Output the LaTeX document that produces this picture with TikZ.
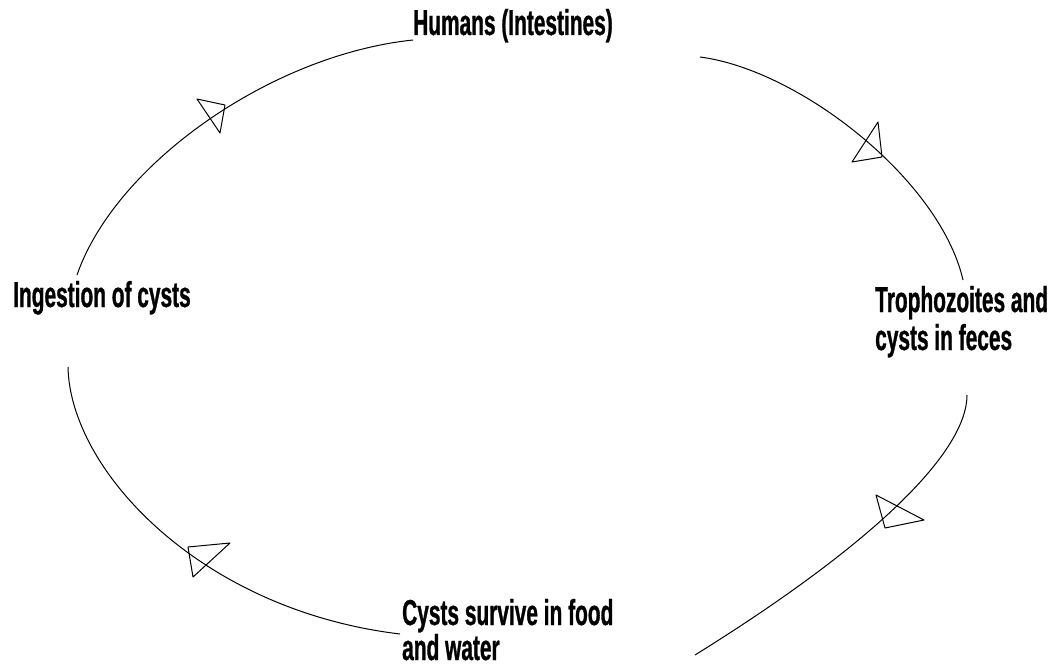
\documentclass[tikz,border=0pt]{standalone}
\usepackage{fontspec}
\newfontfamily\lblfont{Liberation Sans}[FakeStretch=0.58,FakeBold=0.8]
\begin{document}
\begin{tikzpicture}[x=1pt,y=-1pt,
  lbl/.style={inner sep=0pt,anchor=base west,align=left,
    font=\lblfont\bfseries\fontsize{36}{38}\selectfont},
  arc/.style={draw=black,line width=1pt},
  head/.style={draw=black,line width=1pt,line join=round}]
\useasboundingbox (0,0) rectangle (1051,666);
% labels (base anchor = baseline of the last line)
\node[lbl] (humans) at (413,35) {Humans (Intestines)};
\node[lbl] (ingest) at (13,307) {Ingestion of cysts};
\node[lbl,font=\lblfont\bfseries\fontsize{36}{38}\selectfont] (tropho) at (875,350) {Trophozoites and\\cysts in feces};
\node[lbl,font=\lblfont\bfseries\fontsize{36}{35}\selectfont] (cysts) at (402,660) {Cysts survive in food\\and water};
% connector end points
\coordinate (a1s) at (77,275);  \coordinate (a1e) at (413,40);
\coordinate (a2s) at (700,57);  \coordinate (a2e) at (963,280);
\coordinate (a3s) at (967,395); \coordinate (a3e) at (695,655);
\coordinate (a4s) at (68,367);  \coordinate (a4e) at (400,634);
% arcs
\draw[arc] (a1s) .. controls (115,165) and (270,55) .. (a1e);
\draw[arc] (a2s) .. controls (800,70) and (940,180) .. (a2e);
\draw[arc] (a3s) .. controls (967,450) and (880,540) .. (a3e);
\draw[arc] (a4s) .. controls (70,470) and (200,610) .. (a4e);
% arrowheads
\draw[head] (197,99) -- (225,105) -- (220,133) -- cycle;
\draw[head] (878,122) -- (882,157) -- (852,162) -- cycle;
\draw[head] (876,495) -- (924,520) -- (885,528) -- cycle;
\draw[head] (188,547) -- (230,543) -- (193,577) -- cycle;
\end{tikzpicture}
\end{document}
